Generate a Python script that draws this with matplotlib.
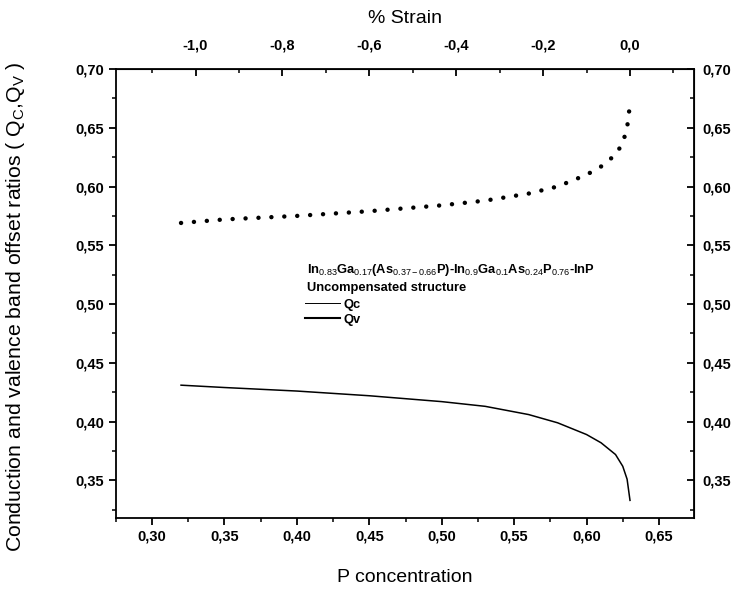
import matplotlib
matplotlib.use("Agg")
import matplotlib.pyplot as plt
from matplotlib.lines import Line2D
from matplotlib.ticker import FuncFormatter, MultipleLocator

plt.rcParams['font.family'] = ['Liberation Sans', 'DejaVu Sans']
plt.rcParams['mathtext.fontset'] = 'custom'
plt.rcParams['mathtext.rm'] = 'Liberation Sans'
plt.rcParams['mathtext.it'] = 'Liberation Sans'
plt.rcParams['mathtext.bf'] = 'Liberation Sans:bold'

# data
p_conc = [0.32, 0.35, 0.40, 0.45, 0.50, 0.53, 0.56, 0.58, 0.60, 0.61, 0.62, 0.625, 0.628, 0.63]
q_v = [0.569, 0.572, 0.575, 0.579, 0.584, 0.588, 0.594, 0.600, 0.610, 0.617, 0.627, 0.637, 0.650, 0.670]
q_c = [0.431, 0.429, 0.426, 0.422, 0.417, 0.413, 0.406, 0.399, 0.389, 0.382, 0.372, 0.362, 0.351, 0.333]

x_ticks = [0.30, 0.35, 0.40, 0.45, 0.50, 0.55, 0.60, 0.65]
y_ticks = [0.35, 0.40, 0.45, 0.50, 0.55, 0.60, 0.65, 0.70]
strain_ticks = [-1.0, -0.8, -0.6, -0.4, -0.2, 0.0]

# strain is linear in P: 0 at P=0.63, -1 at P=0.33
P_ZERO = 0.63
P_PER_STRAIN = 0.30


def p_to_strain(p):
    return (p - P_ZERO) / P_PER_STRAIN


def strain_to_p(s):
    return s * P_PER_STRAIN + P_ZERO


def comma_fmt(digits):
    def fmt(v, _):
        if abs(v) < 1e-9:
            v = 0.0
        return f"{v:.{digits}f}".replace('.', ',')
    return FuncFormatter(fmt)


TICK_SIZE = 10.5
LABEL_SIZE = 14

fig = plt.figure(figsize=(7.38, 5.92), dpi=100)
ax = fig.add_axes([0.157, 0.125, 0.783, 0.7585])

ax.plot(p_conc, q_v, color='black', lw=3.2, linestyle=(0, (0.01, 2.9)),
        dash_capstyle='round')
ax.plot(p_conc, q_c, color='black', lw=1.1)

ax.set_xlim(0.275, 0.674)
ax.set_ylim(0.318, 0.70)
ax.set_xticks(x_ticks)
ax.set_yticks(y_ticks)
ax.xaxis.set_minor_locator(MultipleLocator(0.025))
ax.yaxis.set_minor_locator(MultipleLocator(0.025))
ax.xaxis.set_major_formatter(comma_fmt(2))
ax.yaxis.set_major_formatter(comma_fmt(2))

for sp in ax.spines.values():
    sp.set_linewidth(1.3)
ax.tick_params(which='major', direction='out', length=5, width=1.3,
               labelsize=TICK_SIZE, top=False, right=False)
ax.tick_params(which='minor', direction='out', length=3, width=1.1,
               top=False, right=False)
for lab in ax.get_xticklabels() + ax.get_yticklabels():
    lab.set_fontweight('bold')

ax.set_xlabel('P concentration', fontsize=LABEL_SIZE, labelpad=18)
ax.set_ylabel(r'Conduction and valence band offset ratios ( Q$_\mathregular{C}$,Q$_\mathregular{V}$ )',
              fontsize=15.3)
ax.yaxis.set_label_coords(-0.153, 0.47)

top = ax.secondary_xaxis('top', functions=(p_to_strain, strain_to_p))
top.set_xticks(strain_ticks)
top.xaxis.set_minor_locator(MultipleLocator(0.1))
top.xaxis.set_major_formatter(comma_fmt(1))
top.tick_params(which='major', direction='in', length=5, width=1.3,
                labelsize=TICK_SIZE, pad=12)
top.tick_params(which='minor', direction='in', length=3, width=1.1)
top.set_xlabel('% Strain', fontsize=LABEL_SIZE, labelpad=11)
for lab in top.get_xticklabels():
    lab.set_fontweight('bold')

right = ax.secondary_yaxis('right')
right.set_yticks(y_ticks)
right.yaxis.set_minor_locator(MultipleLocator(0.025))
right.yaxis.set_major_formatter(comma_fmt(2))
right.tick_params(which='major', direction='in', length=5, width=1.3,
                  labelsize=TICK_SIZE, pad=6)
right.tick_params(which='minor', direction='in', length=3, width=1.1)
for lab in right.get_yticklabels():
    lab.set_fontweight('bold')

title1 = (r'In$_{0.83}$Ga$_{0.17}$(As$_{0.37-0.66}$P)-In$_{0.9}$Ga$_{0.1}$'
          r'As$_{0.24}$P$_{0.76}$-InP')
ax.text(0.330, 0.552, title1, transform=ax.transAxes, fontsize=9.3,
        fontweight='bold', va='center', ha='left')
ax.text(0.330, 0.512, 'Uncompensated structure', transform=ax.transAxes,
        fontsize=9.3, fontweight='bold', va='center', ha='left')

handles = [Line2D([], [], color='black', lw=0.7),
           Line2D([], [], color='black', lw=1.5)]
leg = ax.legend(handles, ['Qc', 'Qv'], loc='upper left',
                bbox_to_anchor=(0.318, 0.50), frameon=False,
                handlelength=2.7, handletextpad=0.3, labelspacing=0.25,
                borderaxespad=0, prop={'size': 9.3, 'weight': 'bold'})

fig.savefig('out.png', dpi=100)
